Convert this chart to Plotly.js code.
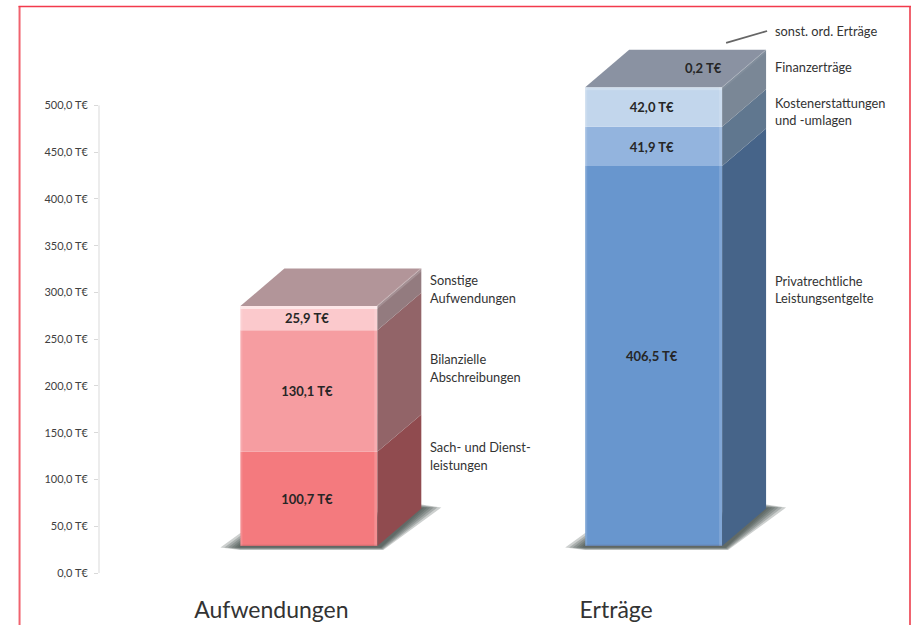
<!DOCTYPE html>
<html><head><meta charset="utf-8">
<script src="https://cdn.plot.ly/plotly-3.0.1.min.js"></script>
<style>html,body{margin:0;padding:0;background:#fff}#chart{width:913px;height:625px}</style>
</head><body><div id="chart"></div>
<script>
// --- data ---
const categories = ['Aufwendungen', 'Erträge'];
const expenseValues = [100.7, 130.1, 25.9];
const incomeValues = [406.5, 41.9, 42.0, 0.2];
const expenseNames = ['Sach- und Dienstleistungen', 'Bilanzielle Abschreibungen', 'Sonstige Aufwendungen'];
const incomeNames = ['Privatrechtliche Leistungsentgelte', 'Kostenerstattungen und -umlagen', 'Finanzerträge', 'sonst. ord. Erträge'];
const tickValues = [0, 50, 100, 150, 200, 250, 300, 350, 400, 450, 500];
const tickLabels = ['0,0 T€', '50,0 T€', '100,0 T€', '150,0 T€', '200,0 T€', '250,0 T€', '300,0 T€', '350,0 T€', '400,0 T€', '450,0 T€', '500,0 T€'];

// --- styling ---
const FONT = 'Lato, "Open Sans", sans-serif';
const expenseFront = ['#f47a7e', '#f69da1', '#fbc9cc'];
const expenseSide = ['#904b4f', '#926468', '#937b7f'];
const expenseTop = '#b29599';
const incomeFront = ['#6896ce', '#93b4de', '#c2d6ec', '#c2d6ec'];
const incomeSide = ['#466489', '#60778f', '#7a8796', '#7a8796'];
const incomeTop = '#8a92a2';

// --- geometry: plot area in px and conversion to axis units ---
const plotL = 98.5, plotR = 900, plotT = 20, y0px = 573.5, pxPerUnit = 0.936, pxPerCat = 345, x0px = 308.5;
const W = 913, H = 625;
const barWidth = 137 / pxPerCat, halfW = barWidth / 2;
const depthX = 44 / pxPerCat, depthY = 37.5 / pxPerUnit;
const floorBase = 27 / pxPerUnit;
const X = px => (px - x0px) / pxPerCat;
const Y = py => (y0px - py) / pxPerUnit;
const dxp = p => p / pxPerCat, dyp = p => p / pxPerUnit;
const fmt = v => v.toFixed(1).replace('.', ',') + ' T€';

const traces = [];
const shadowShapes = [];
function poly(xs, ys, color) {
  traces.push({ type: 'scatter', mode: 'none', x: [...xs, xs[0]], y: [...ys, ys[0]], fill: 'toself',
    fillcolor: color, hoverinfo: 'skip', showlegend: false });
}
function line(xs, ys, color, width) {
  traces.push({ type: 'scatter', mode: 'lines', x: xs, y: ys, line: { color, width }, hoverinfo: 'skip', showlegend: false });
}

const labelX = [], labelY = [], labelT = [];
function column(idx, values, names, front, side, topColor, topGlow) {
  const l = idx - halfW, r = idx + halfW;
  // soft floor shadow, built from nested translucent layers below the traces
  [1, 0.8, 0.62, 0.45, 0.3, 0.15].forEach(g => {
    const pts = [
      [l - dxp(20 * g), floorBase - dyp(1.5)],
      [l, floorBase + dyp(13 * g)],
      [l + dxp(10), floorBase + dyp(13 * g)],
      [r + depthX, floorBase + depthY + dyp(4 * g)],
      [r + depthX + dxp(20 * g), floorBase + depthY + dyp(1)],
      [r + dxp(3 + 3 * g), floorBase - dyp(1 + 3 * g)],
      [l, floorBase - dyp(1 + 3 * g)]
    ];
    shadowShapes.push({ type: 'path', layer: 'below', xref: 'x', yref: 'y', opacity: 0.27,
      fillcolor: '#46514f', line: { width: 0 },
      path: 'M' + pts.map(p => p[0] + ',' + p[1]).join('L') + 'Z' });
  });
  let lo = floorBase;
  const cum = values.map(v => { const s = lo; lo += v; return s; });
  const top = lo;
  values.forEach((v, i) => {
    const a = cum[i], b = a + v;
    poly([r, r + depthX, r + depthX, r], [a, a + depthY, b + depthY, b], side[i]);
  });
  poly([l, r, r + depthX, l + depthX], [top, top, top + depthY, top + depthY], topColor);
  values.forEach((v, i) => {
    traces.push({ type: 'bar', x: [idx], y: [v], base: [cum[i]], width: barWidth, name: names[i],
      marker: { color: front[i], line: { width: 0 } }, hoverinfo: 'name+y', showlegend: false });
    if (v >= 1) { labelX.push(idx - dxp(2)); labelY.push(cum[i] + v / 2 - dyp(2)); labelT.push(fmt(v)); }
  });
  // bevel highlights on the front face
  line([r - dxp(1.5), r - dxp(1.5)], [floorBase, top], 'rgba(255,255,255,0.16)', 3);
  line([l + dxp(1), l + dxp(1)], [floorBase, top], 'rgba(255,255,255,0.14)', 2);
  line([l, r], [floorBase + dyp(0.5), floorBase + dyp(0.5)], 'rgba(90,70,70,0.22)', 1.5);
  line([l, r], [top - dyp(1.5), top - dyp(1.5)], 'rgba(255,255,255,' + topGlow + ')', 3);
  line([r, r + depthX], [top - dyp(1), top + depthY - dyp(1)], 'rgba(255,255,255,' + topGlow * 0.3 + ')', 3);
}
column(0, expenseValues, expenseNames, expenseFront, expenseSide, expenseTop, 0.55);
column(1, incomeValues, incomeNames, incomeFront, incomeSide, incomeTop, 0.2);

// value labels
labelX.push(X(703)); labelY.push(Y(70)); labelT.push(fmt(incomeValues[3]));
traces.push({ type: 'scatter', mode: 'text', x: labelX, y: labelY, text: labelT, textposition: 'middle center',
  textfont: { family: FONT, size: 13, color: '#262626', weight: 700 }, hoverinfo: 'skip', showlegend: false, cliponaxis: false });

// side captions, one annotation per printed line
const captions = [
  [430, 280, 'Sonstige'], [430, 298, 'Aufwendungen'],
  [430, 359, 'Bilanzielle'], [430, 377, 'Abschreibungen'],
  [430, 447, 'Sach- und Dienst-'], [430, 465, 'leistungen'],
  [775, 31.5, 'sonst. ord. Erträge'], [775, 67.5, 'Finanzerträge'],
  [775, 103, 'Kostenerstattungen'], [775, 120.5, 'und -umlagen'],
  [775, 281, 'Privatrechtliche'], [775, 298.5, 'Leistungsentgelte']
];
const annotations = captions.map(c => ({
  x: X(c[0]), y: Y(c[1]), xref: 'x', yref: 'y', text: c[2], showarrow: false, xanchor: 'left', yanchor: 'middle',
  borderpad: 0, borderwidth: 0, font: { family: FONT, size: 12.8, color: '#333' }
}));

const xr = [X(plotL), X(plotR)], yr = [0, Y(plotT)];
const pf = px => (px - plotL) / (plotR - plotL);
const pv = py => (y0px - py) / (y0px - plotT);
const shapes = shadowShapes.concat([
  { type: 'line', xref: 'paper', yref: 'y', x0: 0, x1: 0, y0: 0, y1: 500, line: { color: '#d9d9d9', width: 1 } },
  { type: 'line', xref: 'x', yref: 'y', x0: X(726), y0: Y(43), x1: X(767), y1: Y(31), line: { color: '#666', width: 1.8 } },
  { type: 'line', xref: 'paper', yref: 'paper', x0: pf(19), x1: pf(19), y0: pv(6), y1: pv(630), line: { color: '#f0636f', width: 2 } },
  { type: 'line', xref: 'paper', yref: 'paper', x0: pf(910), x1: pf(910), y0: pv(6), y1: pv(630), line: { color: '#f0636f', width: 2 } },
  { type: 'line', xref: 'paper', yref: 'paper', x0: pf(18), x1: pf(911), y0: pv(6.5), y1: pv(6.5), line: { color: '#f23a4c', width: 1.5 } }
]);

const layout = {
  width: W, height: H, autosize: false,
  margin: { l: plotL, r: W - plotR, t: plotT, b: H - y0px, pad: 0 },
  paper_bgcolor: '#fff', plot_bgcolor: 'rgba(0,0,0,0)',
  barmode: 'overlay', showlegend: false, font: { family: FONT },
  xaxis: { type: 'linear', range: xr, showgrid: false, zeroline: false, showline: false,
    tickmode: 'array', tickvals: categories.map((c, i) => X(i === 0 ? 271 : 616)), ticktext: categories,
    ticks: 'outside', ticklen: 16, tickcolor: 'rgba(0,0,0,0)', tickfont: { family: FONT, size: 23, color: '#333' } },
  yaxis: { range: yr, showgrid: false, zeroline: false, showline: false,
    tickmode: 'array', tickvals: tickValues, ticktext: tickLabels,
    ticks: 'outside', ticklen: 4, tickcolor: '#d9d9d9', tickwidth: 1, ticklabelstandoff: 4,
    tickfont: { family: FONT, size: 11, color: '#404040' } },
  annotations, shapes
};
Plotly.newPlot('chart', traces, layout, { displayModeBar: false, staticPlot: true });
</script></body></html>
